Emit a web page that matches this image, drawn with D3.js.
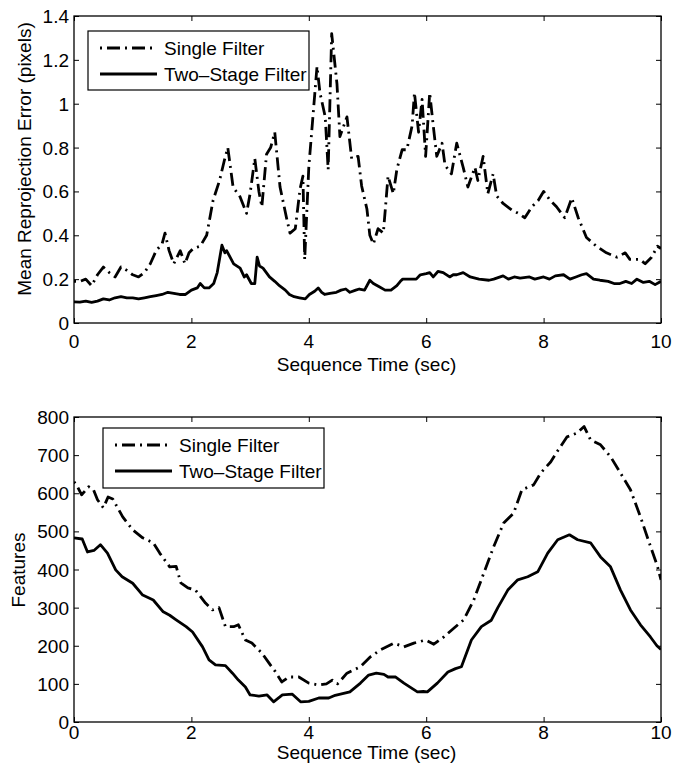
<!DOCTYPE html>
<html>
<head>
<meta charset="utf-8">
<script src="https://cdn.jsdelivr.net/npm/d3@7"></script>
<style>
  html, body { margin: 0; padding: 0; background: #fff; }
  svg { display: block; }
  text { font-family: "Liberation Sans", Arial, Helvetica, sans-serif; fill: #000; }
</style>
</head>
<body>
<svg id="chart" width="673" height="774"></svg>
<script>
// ---------- DATA ----------
const seriesNames = ["Single Filter", "Two\u2013Stage Filter"];

const xTicks = [0, 2, 4, 6, 8, 10];
const topYTicks = [0, 0.2, 0.4, 0.6, 0.8, 1, 1.2, 1.4];
const topYTickLabels = ["0", "0.2", "0.4", "0.6", "0.8", "1", "1.2", "1.4"];
const bottomYTicks = [0, 100, 200, 300, 400, 500, 600, 700, 800];

// Top chart: Mean reprojection error (pixels) — time (sec) and value
const errSingleT = [0,0.1,0.2,0.3,0.4,0.5,0.6,0.7,0.8,0.9,1.0,1.1,1.2,1.3,1.4,1.5,1.55,1.62,1.7,1.81,1.89,1.96,2.03,2.15,2.26,2.37,2.48,2.56,2.62,2.71,2.83,2.94,3.0,3.08,3.15,3.2,3.28,3.35,3.42,3.51,3.62,3.68,3.77,3.85,3.9,3.93,4.0,4.07,4.14,4.19,4.28,4.33,4.39,4.48,4.53,4.65,4.73,4.84,4.9,4.99,5.04,5.1,5.18,5.27,5.35,5.44,5.5,5.59,5.67,5.76,5.8,5.87,5.93,5.99,6.06,6.12,6.18,6.27,6.32,6.43,6.52,6.63,6.71,6.83,6.88,6.97,7.05,7.14,7.2,7.31,7.46,7.57,7.68,7.8,7.91,8.0,8.11,8.22,8.36,8.48,8.59,8.73,8.9,9.07,9.25,9.39,9.47,9.64,9.73,9.84,9.94,10];
const errSingleV = [0.19,0.19,0.2,0.17,0.22,0.255,0.23,0.21,0.255,0.24,0.22,0.21,0.23,0.27,0.33,0.36,0.41,0.33,0.27,0.33,0.27,0.32,0.34,0.35,0.40,0.56,0.65,0.74,0.80,0.62,0.575,0.50,0.59,0.75,0.60,0.53,0.77,0.80,0.87,0.62,0.48,0.41,0.43,0.61,0.67,0.29,0.71,0.94,1.17,1.05,0.94,0.70,1.32,1.09,0.85,0.94,0.75,0.76,0.625,0.52,0.40,0.36,0.43,0.41,0.67,0.59,0.70,0.79,0.79,0.90,1.05,0.87,1.02,0.76,1.05,0.90,0.76,0.82,0.72,0.68,0.82,0.71,0.62,0.71,0.65,0.76,0.59,0.68,0.58,0.545,0.515,0.50,0.48,0.53,0.56,0.60,0.56,0.53,0.48,0.57,0.48,0.39,0.35,0.32,0.30,0.32,0.29,0.29,0.27,0.30,0.35,0.34];

const errTwoT = [0,0.1,0.2,0.3,0.4,0.5,0.6,0.7,0.8,0.9,1.0,1.1,1.2,1.3,1.4,1.5,1.6,1.7,1.8,1.9,2.0,2.1,2.15,2.22,2.3,2.38,2.44,2.52,2.57,2.6,2.72,2.83,2.9,2.94,3.02,3.08,3.12,3.16,3.22,3.33,3.42,3.5,3.6,3.67,3.75,3.84,3.94,4.01,4.1,4.16,4.22,4.27,4.36,4.47,4.55,4.63,4.7,4.8,4.86,4.95,5.04,5.1,5.2,5.3,5.4,5.5,5.56,5.6,5.7,5.83,5.9,6.0,6.06,6.12,6.2,6.29,6.4,6.46,6.52,6.63,6.75,6.9,7.07,7.15,7.31,7.4,7.5,7.6,7.76,7.85,8.0,8.1,8.2,8.34,8.45,8.55,8.65,8.73,8.85,8.96,9.1,9.2,9.3,9.4,9.5,9.59,9.7,9.8,9.9,10];
const errTwoV = [0.096,0.095,0.1,0.094,0.1,0.11,0.105,0.115,0.12,0.115,0.115,0.11,0.115,0.12,0.125,0.13,0.14,0.135,0.13,0.13,0.15,0.16,0.18,0.16,0.16,0.18,0.23,0.355,0.32,0.33,0.27,0.25,0.21,0.22,0.18,0.18,0.30,0.26,0.25,0.21,0.19,0.17,0.15,0.13,0.12,0.115,0.11,0.13,0.145,0.16,0.14,0.13,0.135,0.14,0.15,0.155,0.14,0.15,0.155,0.15,0.195,0.18,0.165,0.15,0.15,0.17,0.19,0.2,0.2,0.20,0.22,0.225,0.23,0.21,0.235,0.23,0.21,0.22,0.22,0.23,0.21,0.2,0.195,0.2,0.215,0.2,0.21,0.205,0.21,0.2,0.21,0.2,0.215,0.22,0.2,0.21,0.22,0.225,0.2,0.195,0.19,0.18,0.18,0.19,0.18,0.2,0.185,0.19,0.175,0.19];

// Bottom chart: Features — time (sec) and value
const featSingleT = [0,0.05,0.13,0.25,0.33,0.4,0.5,0.58,0.66,0.75,0.83,1.0,1.17,1.35,1.46,1.63,1.74,1.82,1.94,2.07,2.24,2.36,2.47,2.58,2.72,2.8,2.92,3.03,3.2,3.32,3.43,3.54,3.66,3.83,4.0,4.17,4.3,4.4,4.49,4.65,4.88,5.05,5.22,5.45,5.62,5.79,5.99,6.13,6.3,6.47,6.64,6.81,6.98,7.15,7.32,7.49,7.63,7.83,7.95,8.12,8.23,8.4,8.57,8.69,8.8,8.97,9.14,9.31,9.48,9.65,9.8,9.94,10];
const featSingleV = [630,620,596,617,610,583,562,590,585,560,538,504,483,470,443,407,408,365,352,346,312,294,300,250,250,255,215,207,181,155,132,105,118,118,102,97,100,110,100,128,145,171,189,207,197,207,215,204,223,246,268,320,390,460,522,548,609,622,653,682,709,748,758,775,740,727,696,653,609,538,470,408,373];

const featTwoT = [0,0.14,0.23,0.34,0.45,0.57,0.71,0.82,1.0,1.17,1.35,1.52,1.63,1.74,1.91,2.02,2.19,2.3,2.41,2.58,2.7,2.8,2.92,3.0,3.15,3.29,3.4,3.55,3.72,3.86,4.0,4.17,4.34,4.45,4.7,4.88,5.02,5.15,5.28,5.35,5.48,5.62,5.85,5.95,6.02,6.19,6.37,6.5,6.6,6.77,6.94,7.11,7.22,7.39,7.56,7.73,7.9,8.07,8.24,8.44,8.58,8.8,8.97,9.14,9.31,9.48,9.65,9.82,9.93,10];
const featTwoV = [483,480,446,450,465,443,399,381,364,333,320,289,280,268,250,236,197,163,150,148,128,110,92,71,68,71,53,71,73,53,54,63,63,70,79,102,123,128,125,118,118,102,79,80,79,102,131,140,145,215,250,267,300,346,373,381,394,443,478,491,478,470,433,407,346,294,255,223,200,190];

// ---------- DRAW ----------
const svg = d3.select("#chart");
const FONT = 19;

function panel(cfg) {
  const { left, right, top, bottom, yDomain, yTicks, yTickLabels, yLabel, yLabelX, yLabelY,
          xTickBaseline, xTitleBaseline, series, legend, clipId } = cfg;
  const x = d3.scaleLinear().domain([0, 10]).range([left, right]);
  const y = d3.scaleLinear().domain(yDomain).range([bottom, top]);
  const g = svg.append("g");

  g.append("clipPath").attr("id", clipId)
    .append("rect").attr("x", left).attr("y", top)
    .attr("width", right - left).attr("height", bottom - top);

  const line = d3.line().x(d => x(d[0])).y(d => y(d[1]));
  const lines = g.append("g").attr("clip-path", `url(#${clipId})`);
  series.forEach(s => {
    const pts = s.t.map((t, i) => [t, s.v[i]]);
    lines.append("path").datum(pts)
      .attr("d", line)
      .attr("fill", "none")
      .attr("stroke", "#000")
      .attr("stroke-width", 2.8)
      .attr("stroke-linejoin", "round")
      .attr("stroke-dasharray", s.dash || null);
  });

  // axes (ticks inward, all four sides)
  const tl = 5;
  const axB = d3.axisBottom(x).tickValues(xTicks).tickSize(-tl).tickFormat("");
  const axT = d3.axisTop(x).tickValues(xTicks).tickSize(-tl).tickFormat("");
  const axL = d3.axisLeft(y).tickValues(yTicks).tickSize(-tl).tickFormat("");
  const axR = d3.axisRight(y).tickValues(yTicks).tickSize(-tl).tickFormat("");
  [[axB, `translate(0,${bottom})`], [axT, `translate(0,${top})`],
   [axL, `translate(${left},0)`], [axR, `translate(${right},0)`]].forEach(([a, tr]) => {
    const ag = g.append("g").attr("transform", tr).call(a);
    ag.select(".domain").remove();
    ag.selectAll(".tick line").attr("stroke", "#000").attr("stroke-width", 1);
  });
  g.append("rect").attr("x", left).attr("y", top)
    .attr("width", right - left).attr("height", bottom - top)
    .attr("fill", "none").attr("stroke", "#000").attr("stroke-width", 1.3);

  // tick labels
  g.selectAll(".xl").data(xTicks).enter().append("text")
    .attr("x", d => x(d)).attr("y", xTickBaseline)
    .attr("text-anchor", "middle").attr("font-size", FONT)
    .text(d => d);
  g.selectAll(".yl").data(yTicks).enter().append("text")
    .attr("x", left - 5).attr("y", d => y(d) + 7)
    .attr("text-anchor", "end").attr("font-size", FONT)
    .text((d, i) => yTickLabels[i]);

  // titles
  g.append("text").attr("x", (left + right) / 2 - 1).attr("y", xTitleBaseline)
    .attr("text-anchor", "middle").attr("font-size", FONT)
    .text("Sequence Time (sec)");
  g.append("text")
    .attr("transform", `translate(${yLabelX},${yLabelY}) rotate(-90)`)
    .attr("text-anchor", "middle").attr("font-size", FONT)
    .text(yLabel);

  // legend
  const L = legend;
  g.append("rect").attr("x", L.x).attr("y", L.y).attr("width", L.w).attr("height", L.h)
    .attr("fill", "#fff").attr("stroke", "#000").attr("stroke-width", 1.2);
  series.forEach((s, i) => {
    const cy = L.y + 17 + i * 26;
    g.append("line").attr("x1", L.x + 12).attr("x2", L.x + 69)
      .attr("y1", cy).attr("y2", cy)
      .attr("stroke", "#000").attr("stroke-width", 2.8)
      .attr("stroke-dasharray", s.dash || null);
    g.append("text").attr("x", L.x + 76).attr("y", cy + 7)
      .attr("font-size", FONT).text(seriesNames[i]);
  });
}

const DASHDOT = "2,5,13,5";

panel({
  left: 74, right: 661, top: 16, bottom: 323,
  yDomain: [0, 1.4], yTicks: topYTicks, yTickLabels: topYTickLabels,
  yLabel: "Mean Reprojection Error (pixels)", yLabelX: 31, yLabelY: 159,
  xTickBaseline: 348, xTitleBaseline: 371,
  series: [
    { t: errSingleT, v: errSingleV, dash: DASHDOT },
    { t: errTwoT, v: errTwoV }
  ],
  legend: { x: 88, y: 31, w: 221, h: 59 },
  clipId: "clipTop"
});

panel({
  left: 74, right: 661, top: 417, bottom: 722,
  yDomain: [0, 800], yTicks: bottomYTicks, yTickLabels: bottomYTicks.map(String),
  yLabel: "Features", yLabelX: 25, yLabelY: 570,
  xTickBaseline: 739, xTitleBaseline: 759,
  series: [
    { t: featSingleT, v: featSingleV, dash: DASHDOT },
    { t: featTwoT, v: featTwoV }
  ],
  legend: { x: 103, y: 428, w: 221, h: 60 },
  clipId: "clipBottom"
});
</script>
</body>
</html>
